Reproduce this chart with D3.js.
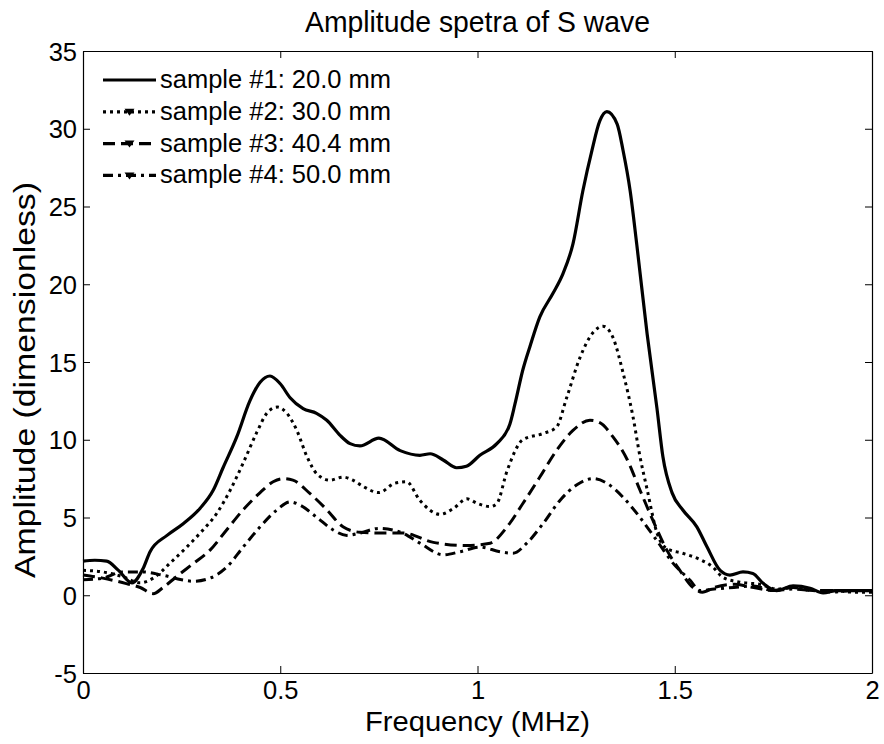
<!DOCTYPE html>
<html>
<head>
<meta charset="utf-8">
<script src="https://cdn.jsdelivr.net/npm/d3@7"></script>
<style>
  html, body { margin: 0; padding: 0; background: #fff; }
  svg { display: block; font-family: "Liberation Sans", Arial, Helvetica, sans-serif; }
</style>
</head>
<body>
<svg id="chart" width="884" height="744"></svg>
<script>
// ---- data ----
const chartTitle = "Amplitude spetra of S wave";
const xLabel = "Frequency (MHz)";
const yLabel = "Amplitude (dimensionless)";
const xTicks = [0, 0.5, 1, 1.5, 2];
const yTicks = [-5, 0, 5, 10, 15, 20, 25, 30, 35];
const seriesNames = ["sample #1: 20.0 mm", "sample #2: 30.0 mm", "sample #3: 40.4 mm", "sample #4: 50.0 mm"];

const freq1 = [0, 0.03, 0.06, 0.09, 0.124, 0.152, 0.17, 0.213, 0.254, 0.297, 0.33, 0.355, 0.39, 0.423, 0.449, 0.474, 0.5, 0.525, 0.558, 0.592, 0.618, 0.651, 0.677, 0.702, 0.75, 0.804, 0.854, 0.88, 0.913, 0.947, 0.972, 1.006, 1.049, 1.082, 1.095, 1.115, 1.133, 1.158, 1.191, 1.217, 1.242, 1.267, 1.29, 1.31, 1.328, 1.354, 1.369, 1.387, 1.404, 1.43, 1.455, 1.47, 1.493, 1.52, 1.556, 1.582, 1.615, 1.64, 1.673, 1.698, 1.724, 1.758, 1.8, 1.843, 1.876, 1.911, 1.95, 2.0];
const amp1 = [2.2, 2.25, 2.2, 1.6, 0.8, 1.7, 2.8, 3.85, 4.6, 5.6, 6.75, 8.2, 10.2, 12.5, 13.7, 14.1, 13.6, 12.7, 12.0, 11.7, 11.25, 10.3, 9.75, 9.6, 10.1, 9.3, 9.0, 9.1, 8.7, 8.2, 8.3, 9.0, 9.75, 11.0, 12.3, 14.5, 16.0, 17.9, 19.4, 20.7, 22.6, 26.0, 28.6, 30.5, 31.1, 30.3, 28.6, 26.0, 22.5, 16.8, 12.0, 8.9, 6.6, 5.5, 4.4, 3.1, 1.6, 1.3, 1.5, 1.4, 0.77, 0.3, 0.6, 0.45, 0.15, 0.3, 0.3, 0.3];

const freq2 = [0, 0.05, 0.1, 0.145, 0.178, 0.22, 0.263, 0.297, 0.34, 0.373, 0.406, 0.441, 0.466, 0.492, 0.517, 0.542, 0.568, 0.593, 0.626, 0.659, 0.684, 0.71, 0.75, 0.79, 0.82, 0.854, 0.905, 0.94, 0.973, 1.0, 1.032, 1.049, 1.075, 1.115, 1.166, 1.2, 1.226, 1.26, 1.293, 1.318, 1.343, 1.369, 1.394, 1.412, 1.43, 1.455, 1.48, 1.52, 1.564, 1.597, 1.622, 1.665, 1.716, 1.76, 1.8, 1.85, 1.9, 1.95, 2.0];
const amp2 = [1.6, 1.5, 1.2, 0.8, 1.1, 2.05, 3.1, 4.0, 5.3, 6.75, 8.5, 10.5, 11.7, 12.1, 11.7, 10.6, 8.9, 7.8, 7.4, 7.6, 7.4, 7.0, 6.6, 7.2, 7.3, 6.1, 5.2, 5.6, 6.2, 5.9, 5.7, 5.9, 8.0, 10.0, 10.4, 10.8, 12.7, 15.3, 16.9, 17.3, 16.6, 14.3, 11.5, 8.9, 6.8, 4.0, 3.0, 2.7, 2.3, 1.8, 1.15, 0.84, 0.7, 0.4, 0.5, 0.3, 0.3, 0.2, 0.2];

const freq3 = [0, 0.05, 0.11, 0.145, 0.178, 0.203, 0.237, 0.28, 0.322, 0.364, 0.406, 0.449, 0.482, 0.507, 0.532, 0.575, 0.618, 0.659, 0.702, 0.75, 0.812, 0.888, 0.973, 1.032, 1.075, 1.115, 1.158, 1.2, 1.242, 1.285, 1.31, 1.343, 1.38, 1.412, 1.445, 1.48, 1.513, 1.546, 1.57, 1.6, 1.65, 1.7, 1.75, 1.8, 1.85, 1.9, 1.95, 2.0];
const amp3 = [1.3, 1.1, 0.75, 0.5, 0.1, 0.5, 1.2, 2.05, 2.9, 4.2, 5.5, 6.6, 7.3, 7.5, 7.4, 6.55, 5.5, 4.4, 4.05, 4.0, 4.0, 3.4, 3.2, 3.35, 4.4, 5.9, 7.6, 9.3, 10.6, 11.25, 11.1, 10.2, 8.7, 6.75, 4.8, 2.9, 1.6, 0.5, 0.2, 0.5, 0.7, 0.5, 0.3, 0.5, 0.3, 0.3, 0.3, 0.3];

const freq4 = [0, 0.05, 0.1, 0.15, 0.2, 0.25, 0.28, 0.322, 0.364, 0.406, 0.449, 0.492, 0.525, 0.55, 0.593, 0.634, 0.669, 0.702, 0.75, 0.81, 0.854, 0.913, 0.956, 1.006, 1.057, 1.09, 1.125, 1.166, 1.209, 1.252, 1.293, 1.328, 1.369, 1.412, 1.455, 1.496, 1.539, 1.564, 1.6, 1.65, 1.7, 1.75, 1.8, 1.85, 1.9, 1.95, 2.0];
const amp4 = [1.0, 1.1, 1.5, 1.5, 1.3, 1.0, 0.9, 1.1, 1.8, 3.1, 4.4, 5.5, 6.0, 5.8, 5.0, 4.2, 3.85, 4.0, 4.3, 4.0, 3.35, 2.6, 2.8, 3.1, 2.8, 2.7, 3.35, 4.6, 6.1, 7.1, 7.5, 7.2, 6.3, 5.0, 3.5, 2.05, 0.96, 0.3, 0.4, 0.5, 0.6, 0.3, 0.4, 0.3, 0.2, 0.3, 0.3];

const freqs = [freq1, freq2, freq3, freq4];
const amps = [amp1, amp2, amp3, amp4];
const dashes = [null, "3,4", "12,6", "10,5,3,5"];

// ---- layout ----
const margin = { left: 83, right: 12, top: 51, bottom: 71 };
const W = 884, H = 744;
const svg = d3.select("#chart");

const x = d3.scaleLinear().domain([0, 2]).range([margin.left, W - margin.right]);
const y = d3.scaleLinear().domain([-5, 35]).range([H - margin.bottom, margin.top]);

const fmt = d => String(d);
const tickLen = 7;

// axes
const gB = svg.append("g").attr("transform", `translate(0,${y(-5)})`)
  .call(d3.axisBottom(x).tickValues(xTicks).tickFormat(fmt).tickSizeInner(-tickLen).tickSizeOuter(0).tickPadding(8));
const gT = svg.append("g").attr("transform", `translate(0,${y(35)})`)
  .call(d3.axisTop(x).tickValues(xTicks).tickFormat("").tickSizeInner(-tickLen).tickSizeOuter(0));
const gL = svg.append("g").attr("transform", `translate(${x(0)},0)`)
  .call(d3.axisLeft(y).tickValues(yTicks).tickFormat(fmt).tickSizeInner(-tickLen).tickSizeOuter(0).tickPadding(6));
const gR = svg.append("g").attr("transform", `translate(${x(2)},0)`)
  .call(d3.axisRight(y).tickValues(yTicks).tickFormat("").tickSizeInner(-tickLen).tickSizeOuter(0));

[gB, gT, gL, gR].forEach(g => {
  g.select(".domain").attr("stroke", "#000").attr("stroke-width", 1.2);
  g.selectAll(".tick line").attr("stroke", "#000").attr("stroke-width", 1);
  g.selectAll("text").attr("fill", "#000").style("font-size", "25.5px")
    .style("font-family", "'Liberation Sans', Arial, sans-serif");
});
gB.selectAll("text").attr("dy", "0.71em");
gL.selectAll("text").attr("dy", "0.36em");

// lines
const line = d3.line().curve(d3.curveMonotoneX);
for (let i = 0; i < 4; i++) {
  const pts = freqs[i].map((f, j) => [x(f), y(amps[i][j])]);
  const p = svg.append("path")
    .attr("d", line(pts))
    .attr("fill", "none")
    .attr("stroke", "#000")
    .attr("stroke-width", i === 0 ? 3.2 : 3)
    .attr("stroke-linejoin", "round");
  if (dashes[i]) p.attr("stroke-dasharray", dashes[i]);
}

// legend
const legX0 = 103, legX1 = 156, legY0 = 80, legDY = 31.8;
seriesNames.forEach((name, i) => {
  const ly = legY0 + i * legDY;
  const l = svg.append("line").attr("x1", legX0).attr("x2", legX1).attr("y1", ly).attr("y2", ly)
    .attr("stroke", "#000").attr("stroke-width", 3.2);
  if (dashes[i]) l.attr("stroke-dasharray", dashes[i]);
  if (i > 0) {
    const cx = (legX0 + legX1) / 2;
    svg.append("path")
      .attr("d", `M${cx - 5},${ly - 3}L${cx + 5},${ly - 3}L${cx},${ly + 4}Z`)
      .attr("fill", "#000");
  }
  svg.append("text").attr("x", 160).attr("y", ly + 8)
    .attr("font-size", 25.5).attr("fill", "#000").text(name);
});

// titles
svg.append("text").attr("x", (x(0) + x(2)) / 2).attr("y", 32)
  .attr("text-anchor", "middle").attr("font-size", 29).attr("fill", "#000")
  .attr("textLength", 345).attr("lengthAdjust", "spacingAndGlyphs").text(chartTitle);
svg.append("text").attr("x", (x(0) + x(2)) / 2).attr("y", 731)
  .attr("text-anchor", "middle").attr("font-size", 28).attr("fill", "#000")
  .attr("textLength", 225).attr("lengthAdjust", "spacingAndGlyphs").text(xLabel);
svg.append("text").attr("transform", `translate(35,380) rotate(-90)`)
  .attr("text-anchor", "middle").attr("font-size", 30).attr("fill", "#000")
  .attr("textLength", 396).attr("lengthAdjust", "spacingAndGlyphs").text(yLabel);
</script>
</body>
</html>
